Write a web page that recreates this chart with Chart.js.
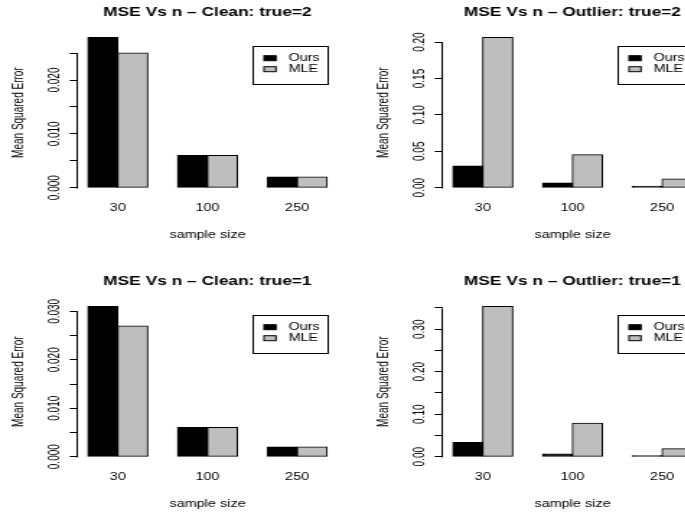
<!doctype html>
<html lang="en">
<head>
<meta charset="utf-8">
<title>MSE Vs n</title>
<script src="https://cdn.jsdelivr.net/npm/chart.js@4.4.1/dist/chart.umd.min.js"></script>
<style>
  body { margin: 0; background: #fff; }
  #page { position: relative; width: 685px; height: 517px; overflow: hidden; background: #fff; }
  #page canvas { position: absolute; }
</style>
<script>
// sample sizes on the x axis
var sampleSizes = ["30", "100", "250"];

// mean squared error per sample size
var oursCleanT2 = [0.0279, 0.0060, 0.0020];
var mleCleanT2  = [0.0250, 0.0060, 0.0020];
var oursOutT2   = [0.0298, 0.0065, 0.0019];
var mleOutT2    = [0.2063, 0.0454, 0.0120];
var oursCleanT1 = [0.0310, 0.0060, 0.0020];
var mleCleanT1  = [0.0270, 0.0060, 0.0020];
var oursOutT1   = [0.0337, 0.0061, 0.0022];
var mleOutT1    = [0.3535, 0.0785, 0.0189];

// y ticks (labels left blank where they would overlap)
var ticksCleanT2  = [0, 0.005, 0.010, 0.015, 0.020, 0.025];
var labelsCleanT2 = ["0.000", "", "0.010", "", "0.020", ""];
var ticksOutT2    = [0, 0.05, 0.10, 0.15, 0.20];
var labelsOutT2   = ["0.00", "0.05", "0.10", "0.15", "0.20"];
var ticksCleanT1  = [0, 0.005, 0.010, 0.015, 0.020, 0.025, 0.030];
var labelsCleanT1 = ["0.000", "", "0.010", "", "0.020", "", "0.030"];
var ticksOutT1    = [0, 0.05, 0.10, 0.15, 0.20, 0.25, 0.30, 0.35];
var labelsOutT1   = ["0.00", "", "0.10", "", "0.20", "", "0.30", ""];

var seriesNames = ["Ours", "MLE"];
var seriesColours = ["#000000", "#bebebe"];
</script>
</head>
<body>
<div id="page">
  <canvas id="p1" width="253" height="269" style="left:0px;top:0px;width:365px;height:269px"></canvas>
  <canvas id="p2" width="253" height="269" style="left:365px;top:0px;width:365px;height:269px"></canvas>
  <canvas id="p3" width="253" height="269" style="left:0px;top:268.6px;width:365px;height:269px"></canvas>
  <canvas id="p4" width="253" height="269" style="left:365px;top:268.6px;width:365px;height:269px"></canvas>
</div>
<script>
var FONT = "'Liberation Sans', Arial, Helvetica, sans-serif";
Chart.defaults.font.family = FONT;
Chart.defaults.font.size = 10;
Chart.defaults.color = "#000";

var TICK_LEN = 6;
var LABEL_DIST = 15.8;   // axis to centre of the rotated tick labels

// groups of two bars with one bar of space between, like barplot(beside=TRUE)
function groupCentre(i) { return 3 * i + 2; }
var xLo = 1, xHi = 3 * sampleSizes.length;
var xPad = (xHi - xLo) * 0.04;

var measure = document.createElement("canvas").getContext("2d");
measure.font = "10px " + FONT;
function tickPad(labels) {
  var w = 0;
  labels.forEach(function (l) { w = Math.max(w, measure.measureText(l).width); });
  return LABEL_DIST - TICK_LEN - w / 2;
}

// y axis line only runs from 0 to the last tick
var axisLine = {
  id: "axisLine",
  afterDraw: function (chart) {
    var ys = chart.scales.y, ctx = chart.ctx;
    var t = ys.ticks;
    var x = Math.round(ys.right) - 0.5;
    ctx.save();
    ctx.strokeStyle = "#000";
    ctx.lineWidth = 1;
    ctx.beginPath();
    ctx.moveTo(x, Math.round(ys.getPixelForValue(t[0].value)) + 0.5);
    ctx.lineTo(x, Math.round(ys.getPixelForValue(t[t.length - 1].value)) + 0.5);
    ctx.stroke();
    ctx.restore();
  }
};

// boxed legend in the top right of the plot
var boxLegend = {
  id: "boxLegend",
  afterDraw: function (chart) {
    var ctx = chart.ctx, area = chart.chartArea;
    var w = 51.5, h = 37.8;
    var left = area.right - 7.1 - w, top = area.top + 14;
    ctx.save();
    ctx.lineWidth = 1;
    ctx.strokeStyle = "#000";
    ctx.strokeRect(Math.round(left) + 0.5, Math.round(top) + 0.5, Math.round(w), Math.round(h));
    ctx.font = "10px " + FONT;
    ctx.textBaseline = "middle";
    ctx.textAlign = "left";
    chart.data.datasets.forEach(function (ds, i) {
      var cy = top + 12.7 + i * 11;
      ctx.fillStyle = ds.backgroundColor;
      ctx.fillRect(left + 8.3, cy - 2.5, 8.3, 5);
      ctx.strokeRect(left + 8.3, cy - 2.5, 8.3, 5);
      ctx.fillStyle = "#000";
      ctx.fillText(ds.label, left + 25.2, cy + 0.5);
    });
    ctx.restore();
  }
};

function makePanel(id, title, ours, mle, ticks, labels) {
  var top = Math.max.apply(null, ours.concat(mle));
  var series = [ours, mle];
  var ctx = document.getElementById(id).getContext("2d");
  return new Chart(ctx, {
    type: "bar",
    data: {
      datasets: series.map(function (vals, k) {
        return {
          label: seriesNames[k],
          data: vals.map(function (v, i) { return { x: groupCentre(i), y: v }; }),
          backgroundColor: seriesColours[k],
          borderColor: "#000",
          borderWidth: 1,
          borderSkipped: false,
          inflateAmount: 0.5,
          categoryPercentage: 2 / 3,
          barPercentage: 1
        };
      })
    },
    options: {
      responsive: false,
      animation: false,
      events: [],
      layout: { padding: { left: 0, right: 19.7, top: 0, bottom: 25.3 } },
      plugins: {
        legend: { display: false },
        tooltip: { enabled: false },
        title: {
          display: true,
          text: title,
          fullSize: false,
          font: { size: 12, weight: "bold" },
          padding: { top: 5.3, bottom: 11.8 }
        }
      },
      scales: {
        x: {
          type: "linear",
          offset: false,
          min: xLo - xPad,
          max: xHi + xPad,
          grid: { display: false, drawTicks: false },
          border: { display: false },
          afterBuildTicks: function (s) {
            s.ticks = sampleSizes.map(function (_, i) { return { value: groupCentre(i) }; });
          },
          afterFit: function (s) { s.height = 50; },
          ticks: {
            autoSkip: false,
            maxRotation: 0,
            padding: 8.8,
            callback: function (v, i) { return sampleSizes[i]; }
          },
          title: { display: true, text: "sample size", padding: { top: 0, bottom: 2.7 } }
        },
        y: {
          type: "linear",
          bounds: "data",
          min: -0.04 * top,
          max: 1.04 * top,
          grid: { display: true, drawOnChartArea: false, drawTicks: true, tickLength: TICK_LEN, color: "#000" },
          border: { display: false },
          afterBuildTicks: function (s) {
            s.ticks = ticks.map(function (v) { return { value: v }; });
          },
          afterFit: function (s) { s.width = 54.3; },
          ticks: {
            autoSkip: false,
            minRotation: 90,
            maxRotation: 90,
            crossAlign: "center",
            padding: tickPad(labels),
            callback: function (v, i) { return labels[i]; }
          },
          title: { display: true, text: "Mean Squared Error", padding: { top: 7.2, bottom: 0 } }
        }
      }
    },
    plugins: [axisLine, boxLegend]
  });
}

makePanel("p1", "MSE Vs n \u2013 Clean: true=2", oursCleanT2, mleCleanT2, ticksCleanT2, labelsCleanT2);
makePanel("p2", "MSE Vs n \u2013 Outlier: true=2", oursOutT2, mleOutT2, ticksOutT2, labelsOutT2);
makePanel("p3", "MSE Vs n \u2013 Clean: true=1", oursCleanT1, mleCleanT1, ticksCleanT1, labelsCleanT1);
makePanel("p4", "MSE Vs n \u2013 Outlier: true=1", oursOutT1, mleOutT1, ticksOutT1, labelsOutT1);
</script>
</body>
</html>
